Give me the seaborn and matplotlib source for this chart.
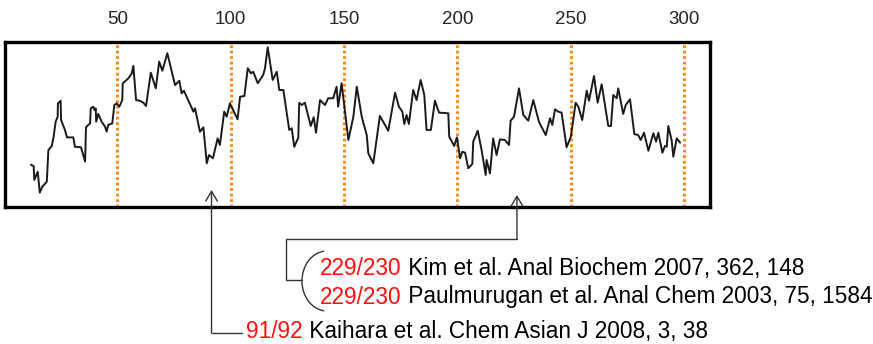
import matplotlib
matplotlib.use("Agg")
import matplotlib.pyplot as plt
import seaborn as sns
from matplotlib.patches import Arc

# residue position and profile score
position = [
    11.8, 13.0, 13.3, 14.8, 15.7, 16.8, 18.8, 19.5, 21.0, 21.8, 22.7, 23.6, 23.7, 24.9, 25.1,
    26.8, 27.7, 30.5, 31.2, 33.9, 35.7, 36.1, 37.1, 37.9, 38.2, 39.3, 39.8, 40.4, 40.6, 41.5,
    43.0, 44.5, 45.2, 45.9, 47.7, 48.6, 49.6, 50.8, 52.1, 52.3, 54.8, 56.3, 57.0, 58.2, 59.9,
    61.4, 62.6, 64.7, 66.9, 68.4, 69.8, 72.0, 75.4, 77.3, 78.3, 79.3, 83.5, 84.2, 86.4, 87.9,
    89.4, 90.4, 92.1, 94.2, 95.2, 97.1, 98.2, 99.6, 103.0, 104.1, 106.0, 107.5,
    108.9, 109.9, 111.9, 114.3, 115.1, 116.3, 118.5, 120.3, 121.4, 123.2, 125.8, 126.9, 128.0,
    129.8, 130.2, 131.3, 132.7, 135.3, 136.6, 137.6, 139.4, 141.6, 143.0, 145.2, 146.7, 147.4,
    148.9, 151.9, 154.1, 155.6,
    157.8, 160.0, 160.7, 162.9, 165.8, 169.5, 172.5, 174.2, 175.7, 176.6, 177.6, 178.6, 180.5,
    182.0, 183.8, 185.4, 186.4, 188.3, 190.1, 191.9, 196.0, 196.4, 198.6, 199.8, 201.2, 202.2,
    203.4, 204.8,
    206.6, 207.0, 209.0, 210.7, 212.5, 212.9, 214.4, 215.8, 217.3, 218.8, 221.0, 222.8, 223.5,
    225.0, 227.2, 229.1, 231.3, 233.5, 236.0, 239.0, 240.9, 241.9, 243.1, 244.5, 246.0, 248.2,
    250.1, 252.2,
    253.4, 255.1, 257.1, 258.1, 260.3, 261.9, 263.7, 266.6, 267.8, 268.8, 270.3, 271.0, 273.2,
    274.3, 276.2, 278.1, 279.8, 280.9, 282.4, 284.3, 286.5, 287.7, 288.7, 290.5, 291.6, 292.4,
    293.1, 294.6, 295.3, 296.8, 298.3,
]
score = [
    2.56, 2.48, 1.64, 2.14, 0.87, 1.23, 1.53, 3.45, 3.70, 4.26, 5.17, 5.47, 6.28, 6.44, 5.27,
    4.67, 4.22, 4.22, 3.65, 3.62, 2.75, 4.83, 4.97, 5.07, 5.98, 6.08, 5.88, 5.98, 5.17, 5.64,
    5.17, 4.87, 4.57, 4.97, 5.07, 6.18, 6.28, 6.08, 6.48, 7.49, 7.80, 8.10, 8.55, 6.48, 6.44,
    6.32, 6.12, 8.14, 7.19, 8.81, 8.26, 9.32, 7.39, 7.65, 6.89, 7.05, 5.78, 5.98, 4.56, 4.83,
    2.65, 3.15, 2.95, 4.16, 3.76, 5.78, 5.47, 6.28, 5.32, 6.68, 6.73, 8.41,
    8.10, 8.20, 7.50, 8.00, 8.41, 9.68, 7.70, 8.20, 7.09, 7.09, 4.67, 4.77, 3.65,
    4.20, 6.32, 6.18, 6.32, 4.91, 5.44, 4.50, 6.48, 6.18, 6.59, 6.59, 7.29, 6.08,
    7.50, 4.06, 5.47, 7.29,
    5.47, 4.36, 3.25, 2.65, 5.52, 4.62, 6.93, 6.08, 5.78, 5.03, 5.58, 5.03, 7.09,
    6.48, 7.70, 6.79, 4.67, 4.67, 6.44, 5.72, 5.68, 4.26, 3.70, 4.22, 2.95, 3.35,
    3.29, 2.35,
    2.61, 3.96, 4.62, 3.45, 1.94, 2.85, 2.04, 4.16, 3.15, 4.10, 4.06, 3.76, 5.23,
    5.47, 7.19, 5.58, 5.23, 6.48, 5.17, 4.36, 5.38, 4.97, 5.92, 5.78, 5.72, 3.62,
    4.26, 6.32,
    6.08, 5.27, 7.05, 6.44, 7.94, 6.32, 7.44, 4.91, 4.91, 6.79, 6.59, 7.19, 5.64,
    6.18, 6.53, 4.42, 4.36, 4.06, 4.50, 3.41, 4.47, 3.96, 4.50, 3.29, 3.70, 3.65,
    4.91, 4.02, 3.05, 4.16, 3.90,
]
grid_ticks = [50, 100, 150, 200, 250, 300]

# split sites and references
sites = [91.5, 226.3]
site_labels = ["91/92", "229/230", "229/230"]
references = [
    " Kaihara et al. Chem Asian J 2008, 3, 38",
    " Kim et al. Anal Biochem 2007, 362, 148",
    " Paulmurugan et al. Anal Chem 2003, 75, 1584",
]

sns.set_theme(style="white")
plt.rcParams["font.family"] = ["Liberation Sans", "DejaVu Sans"]

fig = plt.figure(figsize=(8.73, 3.44), dpi=100)
ax = fig.add_axes([5 / 873, 1 - 207 / 344, 705 / 873, 165 / 344])

for t in grid_ticks:
    ax.axvline(t, color="#ff8c1a", lw=2.2, ls=(0, (0.9, 0.9)), zorder=1)

sns.lineplot(x=position, y=score, ax=ax, color="#1a1a1a", lw=1.4,
             estimator=None, sort=False, zorder=3)

ax.set_xlim(0.35, 311.5)
ax.set_ylim(0, 10)
ax.xaxis.tick_top()
ax.set_xticks(grid_ticks)
ax.set_xticklabels([str(t) for t in grid_ticks], fontsize=13.5)
ax.tick_params(axis="x", length=0, pad=10)
ax.set_yticks([])
ax.set_xlabel("")
ax.set_ylabel("")
for sp in ax.spines.values():
    sp.set_visible(True)
    sp.set_color("black")
    sp.set_linewidth(2.4)

# conversion helper: pixel offsets from the axes frame, in data units
px = 705 / (311.5 - 0.35)
py = 165 / 10.0

line_kw = dict(color="#333333", lw=1.0, clip_on=False)
arrow_kw = dict(arrowstyle="->,head_length=0.5,head_width=0.3", color="#333333", lw=1.0,
                mutation_scale=14, shrinkA=0, shrinkB=0)

# 91/92 arrow
y_low = -(333 - 207) / py
ax.annotate("", xy=(sites[0], (207 - 190) / py), xytext=(sites[0], y_low),
            arrowprops=arrow_kw, annotation_clip=False)
x_end = sites[0] + (242 - 211.5) / px
ax.plot([sites[0], x_end], [y_low, y_low], **line_kw)

# 229/230 arrow
y_mid = -(239 - 207) / py
ax.annotate("", xy=(sites[1], (207 - 195) / py), xytext=(sites[1], y_mid),
            arrowprops=arrow_kw, annotation_clip=False)
x_left = sites[1] - (517 - 286) / px
y_br = -(280 - 207) / py
x_br = x_left + (302 - 286) / px
ax.plot([sites[1], x_left, x_left, x_br], [y_mid, y_mid, y_br, y_br], **line_kw)
brace = Arc((x_left + (327 - 286) / px, -(281 - 207) / py),
            width=50 / px, height=60 / py, theta1=124, theta2=236,
            color="#333333", lw=1.0, clip_on=False)
ax.add_patch(brace)

text_rows = [
    (x_end + 4 / px, -(331.5 - 207) / py),
    (x_left + 34 / px, -(268.5 - 207) / py),
    (x_left + 34 / px, -(297 - 207) / py),
]
for (tx, ty), lab, ref in zip(text_rows, site_labels, references):
    t1 = ax.text(tx, ty, lab, color="#ff1010", fontsize=16.3, va="center",
                 ha="left", clip_on=False)
    ax.annotate(ref, xy=(1, 0), xycoords=t1, va="bottom", ha="left",
                fontsize=16.3, color="black", annotation_clip=False)

fig.savefig("out.png", dpi=100)
